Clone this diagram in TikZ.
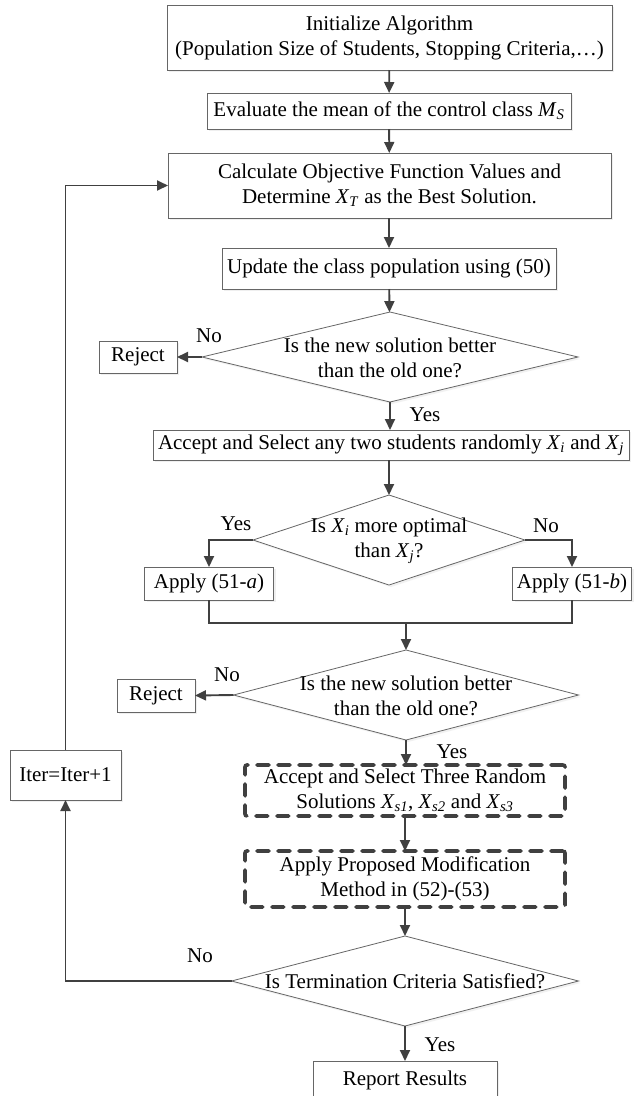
\documentclass[tikz,border=0pt]{standalone}
\usepackage{fontspec}
\setmainfont{Liberation Serif}
\usetikzlibrary{arrows.meta,shapes.geometric,shadows}
\newcommand{\vX}[1]{\textit{X}\textsubscript{\textit{#1}}}
\begin{document}
\begin{tikzpicture}[x=1pt,y=-1pt,
  every node/.style={font=\fontsize{21}{25}\selectfont, text=black},
  box/.style={draw=black!60, line width=0.9pt, fill=white, inner sep=0pt, outer sep=0pt, align=center,
    drop shadow={shadow xshift=2pt,shadow yshift=-2pt,fill=black!12}},
  dbox/.style={draw=black!75, line width=3.6pt, dash pattern=on 12pt off 9pt, line cap=round,
    rounded corners=2pt, fill=white, inner sep=0pt, outer sep=0pt, align=center},
  dia/.style={diamond, draw=black!60, line width=0.8pt, fill=white, inner sep=0pt, outer sep=0pt,
    drop shadow={shadow xshift=2pt,shadow yshift=-2pt,fill=black!10}},
  lbl/.style={inner sep=0pt, align=center},
  conn/.style={draw=black!75, line width=1.9pt, -{Triangle[length=11pt,width=10pt]}},
  plainline/.style={draw=black!75, line width=1.9pt},
]
\path[use as bounding box, fill=white] (0,0) rectangle (636,1096);

% main column
\node[box, minimum width=445pt, minimum height=65pt] (b1) at (389.5,37.5)
  {Initialize Algorithm\\(Population Size of Students, Stopping Criteria,…)};
\node[box, minimum width=364pt, minimum height=36pt] (b2) at (389,111)
  {Evaluate the mean of the control class \textit{M}\textsubscript{\textit{S}}};
\node[box, minimum width=443pt, minimum height=65pt] (b3) at (389.5,185.5)
  {Calculate Objective Function Values and\\Determine \vX{T} as the Best Solution.};
\node[box, minimum width=334pt, minimum height=41pt] (b4) at (389,268.5)
  {Update the class population using (50)};

\node[dia, minimum width=376pt, minimum height=90pt] (d1) at (390,357) {};
\node[lbl] (t1) at (390,357.5) {Is the new solution better\\than the old one?};
\node[box, minimum width=78pt, minimum height=32pt] (r1) at (138,357) {Reject};
\node[lbl] (n1) at (209,336) {No};
\node[lbl] (y1) at (425,415) {Yes};

\node[box, minimum width=476pt, minimum height=30pt] (b5) at (391,445)
  {Accept and Select any two students randomly \vX{i} and \vX{j}};

\node[dia, minimum width=272pt, minimum height=90pt] (d2) at (389,540) {};
\node[lbl] (t2) at (389,540.5) {Is \vX{i} more optimal\\than \vX{j}?};
\node[lbl] (y2) at (236,524) {Yes};
\node[lbl] (n2) at (546,526) {No};
\node[box, minimum width=129pt, minimum height=33pt] (ba) at (209,583.5) {Apply (51-\textit{a})};
\node[box, minimum width=119pt, minimum height=33pt] (bb) at (572,583.5) {Apply (51-\textit{b})};
\coordinate (jn) at (406,623);

\node[dia, minimum width=345pt, minimum height=90pt] (d3) at (406,695) {};
\node[lbl] (t3) at (406,695.5) {Is the new solution better\\than the old one?};
\node[box, minimum width=78pt, minimum height=33pt] (r2) at (156,695.5) {Reject};
\node[lbl] (n3) at (227,675) {No};
\node[lbl] (y3) at (452,752) {Yes};

\node[dbox, minimum width=320pt, minimum height=51pt] (db1) at (405,790.5)
  {Accept and Select Three Random\\Solutions \vX{s1}, \vX{s2} and \vX{s3}};
\node[dbox, minimum width=320pt, minimum height=56pt] (db2) at (405,879)
  {Apply Proposed Modification\\Method in (52)-(53)};

\node[dia, minimum width=347pt, minimum height=90pt] (d4) at (405,981) {};
\node[lbl] (t4) at (405,981) {Is Termination Criteria Satisfied?};
\node[lbl] (n4) at (200,956) {No};
\node[lbl] (y4) at (440,1045) {Yes};
\node[box, minimum width=184pt, minimum height=39pt] (rep) at (405,1080.5) {Report Results};

\node[box, minimum width=111pt, minimum height=50pt] (it) at (65.5,775) {Iter=Iter+1};

% connectors
\draw[conn] (b1) -- (b2);
\draw[conn] (b2) -- (b3);
\draw[conn] (b3.south -| b4.north) -- (b4.north);
\draw[conn] (b4) -- (d1);
\draw[conn] (d1.west) -- (r1.east);
\draw[conn] (d1.south) -- (d1.south |- b5.north);
\draw[conn] (b5.south -| d2.north) -- (d2.north);
\draw[conn] (d2.west) -| (ba.north);
\draw[conn] (d2.east) -| (bb.north);
\draw[plainline] (ba.south) |- (jn) -| (bb.south);
\draw[conn] (jn) -- (d3.north);
\draw[conn] (d3.west) -- (r2.east);
\draw[conn] (d3.south) -- (d3.south |- db1.north);
\draw[conn] (db1.south) -- (db2.north);
\draw[conn] (db2.south) -- (d4.north);
\draw[conn] (d4.south) -- (rep.north);
\draw[conn] (d4.west) -| (it.south);
\draw[conn] (it.north) |- (b3.west);
\end{tikzpicture}
\end{document}
